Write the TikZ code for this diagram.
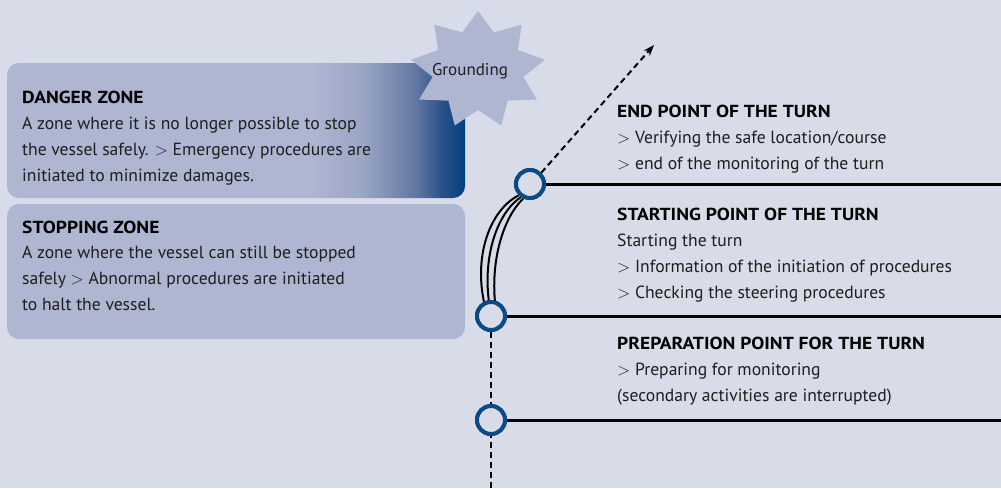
\documentclass[tikz,border=0pt]{standalone}
\usepackage{fontspec}
\setmainfont{PT Sans}
\newfontfamily\headfont[FakeStretch=1.12]{PT Sans Bold}
\usetikzlibrary{arrows.meta}
\definecolor{bgc}{HTML}{D8DCE8}
\definecolor{boxc}{HTML}{AEB6D1}
\definecolor{mid1}{HTML}{9AA5C5}
\definecolor{mid2}{HTML}{6478A4}
\definecolor{mid3}{HTML}{2D5288}
\definecolor{darkb}{HTML}{003F7D}
\definecolor{ringc}{HTML}{0B4A82}
\definecolor{txtc}{HTML}{1E1E1E}
\pgfdeclarehorizontalshading{dzshade}{100bp}{color(0bp)=(boxc); color(58bp)=(boxc); color(64bp)=(mid1); color(69.5bp)=(mid2); color(72.4bp)=(mid3); color(75bp)=(darkb); color(100bp)=(darkb)}
\tikzset{
  zonebox/.style={rounded corners=12pt},
  ring/.style={circle, draw=ringc, line width=4pt, fill=bgc, minimum size=28pt, inner sep=0pt},
  hline/.style={line width=3pt, black},
  dashline/.style={line width=2pt, black, dash pattern=on 6pt off 4pt},
  curveline/.style={line width=2pt, black},
  txt/.style={anchor=base west, inner sep=0pt, text=txtc, font=\fontsize{17.6}{26}\selectfont},
  head/.style={anchor=base west, inner sep=0pt, text=black, font=\fontsize{17.4}{26}\headfont},
}
\begin{document}
\begin{tikzpicture}[x=1pt,y=-1pt]
\fill[bgc] (0,0) rectangle (1001,488);
\useasboundingbox (0,0) rectangle (1001,488);
% zone boxes
\path[zonebox, shading=dzshade] (7,63) rectangle (465,198);
\fill[zonebox, boxc] (7,204) rectangle (465,339);
% star
\fill[boxc] plot[samples at={0,...,17}, variable=\i] ({478+(68-22*mod(\i,2))*cos(90+20*\i)},{70-(59-19*mod(\i,2))*sin(90+20*\i)}) -- cycle;
\node[inner sep=0pt, text=txtc, font=\fontsize{17}{18}\selectfont] (gr) at (470,71) {Grounding};
% circles
\node[ring] (c1) at (530,184) {};
\node[ring] (c2) at (491,316) {};
\node[ring] (c3) at (491,420) {};
\coordinate (e1) at (1001,184);
\coordinate (e2) at (1001,316);
\coordinate (e3) at (1001,420);
\coordinate (bot) at (491,488);
\coordinate (tip) at (654,45);
\draw[hline] (c1.east) -- (e1);
\draw[hline] (c2.east) -- (e2);
\draw[hline] (c3.east) -- (e3);
\draw[dashline] (c2.south) -- (bot);
\draw[dashline, -{Stealth[length=11pt, width=8pt]}] (c1.north east) -- (tip);
\draw[curveline] (c1.225) .. controls (490,210) and (474,255) .. (484,302);
\draw[curveline] (c1.235) .. controls (496,214) and (483,258) .. (489,302);
\draw[curveline] (c1.245) .. controls (503,218) and (491,260) .. (495,302);
\node[ring] at (c1) {};
\node[ring] at (c2) {};
\node[ring] at (c3) {};
% left texts
\node[head] (dzh) at (22,103) {DANGER ZONE};
\node[txt] (dz1) at (22,129) {A zone where it is no longer possible to stop};
\node[txt] (dz2) at (22,155) {the vessel safely. $>$ Emergency procedures are};
\node[txt] (dz3) at (22,181) {initiated to minimize damages.};
\node[head] (szh) at (22,233) {STOPPING ZONE};
\node[txt] (sz1) at (22,258) {A zone where the vessel can still be stopped};
\node[txt] (sz2) at (22,284) {safely $>$ Abnormal procedures are initiated};
\node[txt] (sz3) at (22,310) {to halt the vessel.};
% right texts
\node[head] (eph) at (617,117) {END POINT OF THE TURN};
\node[txt] (ep1) at (617,143) {$>$ Verifying the safe location/course};
\node[txt] (ep2) at (617,169) {$>$ end of the monitoring of the turn};
\node[head] (sph) at (617,220) {STARTING POINT OF THE TURN};
\node[txt] (sp1) at (617,246) {Starting the turn};
\node[txt] (sp2) at (617,272) {$>$ Information of the initiation of procedures};
\node[txt] (sp3) at (617,298) {$>$ Checking the steering procedures};
\node[head] (pph) at (617,349) {PREPARATION POINT FOR THE TURN};
\node[txt] (pp1) at (617,375) {$>$ Preparing for monitoring};
\node[txt] (pp2) at (617,401) {(secondary activities are interrupted)};
\end{tikzpicture}
\end{document}
